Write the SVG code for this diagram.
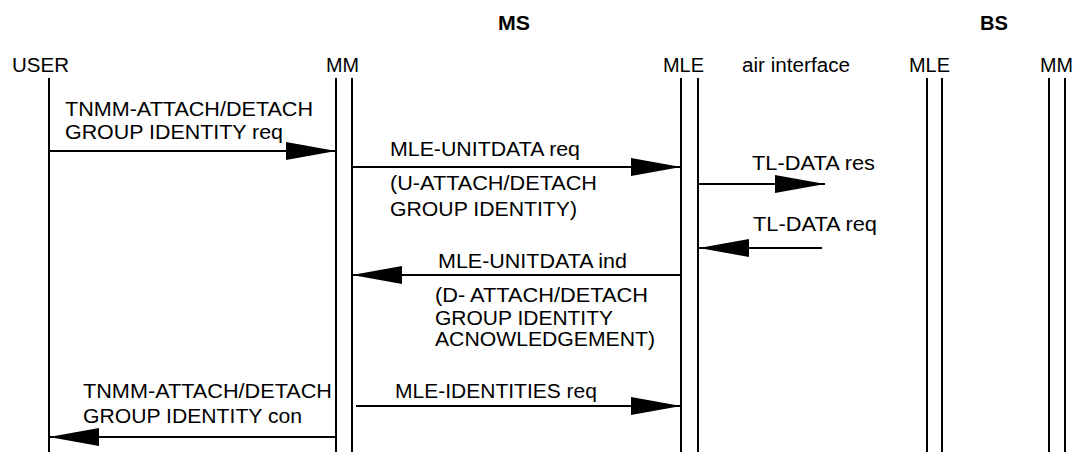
<svg xmlns="http://www.w3.org/2000/svg" width="1074" height="452" viewBox="0 0 1074 452">
<style>
text{font-family:"Liberation Sans",Arial,sans-serif;font-size:20px;fill:#000}
.b{font-weight:bold}
.life{stroke:#000;stroke-width:2;fill:none}
.msg{stroke:#000;stroke-width:2;fill:none;marker-end:url(#ah)}
</style>
<defs>
<marker id="ah" viewBox="0 0 50 18" refX="50" refY="9" markerWidth="50" markerHeight="18" markerUnits="userSpaceOnUse" orient="auto">
<path d="M0,0 L50,9 L0,18 Z" fill="#000"/>
</marker>
</defs>
<rect width="1074" height="452" fill="#fff"/>
<g id="titles">
<text class="b" x="498" y="30" textLength="32" lengthAdjust="spacingAndGlyphs">MS</text>
<text class="b" x="980" y="30" textLength="28" lengthAdjust="spacingAndGlyphs">BS</text>
<text x="742" y="72" textLength="108" lengthAdjust="spacingAndGlyphs">air interface</text>
</g>
<g id="user">
<text x="12" y="72" textLength="57" lengthAdjust="spacingAndGlyphs">USER</text>
<line class="life" x1="49" y1="78" x2="49" y2="452"/>
</g>
<g id="ms-mm">
<text x="326" y="72" textLength="33" lengthAdjust="spacingAndGlyphs">MM</text>
<line class="life" x1="336" y1="78" x2="336" y2="452"/>
<line class="life" x1="352" y1="78" x2="352" y2="452"/>
</g>
<g id="ms-mle">
<text x="663" y="72" textLength="41" lengthAdjust="spacingAndGlyphs">MLE</text>
<line class="life" x1="681" y1="78" x2="681" y2="452"/>
<line class="life" x1="698" y1="78" x2="698" y2="452"/>
</g>
<g id="bs-mle">
<text x="909" y="72" textLength="41" lengthAdjust="spacingAndGlyphs">MLE</text>
<line class="life" x1="927" y1="78" x2="927" y2="452"/>
<line class="life" x1="942" y1="78" x2="942" y2="452"/>
</g>
<g id="bs-mm">
<text x="1040" y="72" textLength="33" lengthAdjust="spacingAndGlyphs">MM</text>
<line class="life" x1="1049" y1="78" x2="1049" y2="452"/>
<line class="life" x1="1065" y1="78" x2="1065" y2="452"/>
</g>
<g id="connectors">
<line class="msg" x1="49" y1="151" x2="336" y2="151"/>
<line class="msg" x1="352" y1="167" x2="681" y2="167"/>
<line class="msg" x1="698" y1="184" x2="825" y2="184"/>
<line class="msg" x1="822" y1="248" x2="699" y2="248"/>
<line class="msg" x1="681" y1="275" x2="352" y2="275"/>
<line class="msg" x1="356" y1="406" x2="681" y2="406"/>
<line class="msg" x1="336" y1="437" x2="49" y2="437"/>
</g>
<g id="labels">
<text x="65" y="116" textLength="248" lengthAdjust="spacingAndGlyphs">TNMM-ATTACH/DETACH</text>
<text x="65" y="139" textLength="218" lengthAdjust="spacingAndGlyphs">GROUP IDENTITY req</text>
<text x="390" y="156" textLength="190" lengthAdjust="spacingAndGlyphs">MLE-UNITDATA req</text>
<text x="390" y="190" textLength="207" lengthAdjust="spacingAndGlyphs">(U-ATTACH/DETACH</text>
<text x="390" y="216" textLength="187" lengthAdjust="spacingAndGlyphs">GROUP IDENTITY)</text>
<text x="752" y="170" textLength="123" lengthAdjust="spacingAndGlyphs">TL-DATA res</text>
<text x="753" y="231" textLength="124" lengthAdjust="spacingAndGlyphs">TL-DATA req</text>
<text x="438" y="268" textLength="189" lengthAdjust="spacingAndGlyphs">MLE-UNITDATA ind</text>
<text x="435" y="302" textLength="213" lengthAdjust="spacingAndGlyphs">(D- ATTACH/DETACH</text>
<text x="435" y="325" textLength="178" lengthAdjust="spacingAndGlyphs">GROUP IDENTITY</text>
<text x="435" y="346" textLength="220" lengthAdjust="spacingAndGlyphs">ACNOWLEDGEMENT)</text>
<text x="395" y="398" textLength="202" lengthAdjust="spacingAndGlyphs">MLE-IDENTITIES req</text>
<text x="83" y="398" textLength="249" lengthAdjust="spacingAndGlyphs">TNMM-ATTACH/DETACH</text>
<text x="83" y="423" textLength="219" lengthAdjust="spacingAndGlyphs">GROUP IDENTITY con</text>
</g>
</svg>
